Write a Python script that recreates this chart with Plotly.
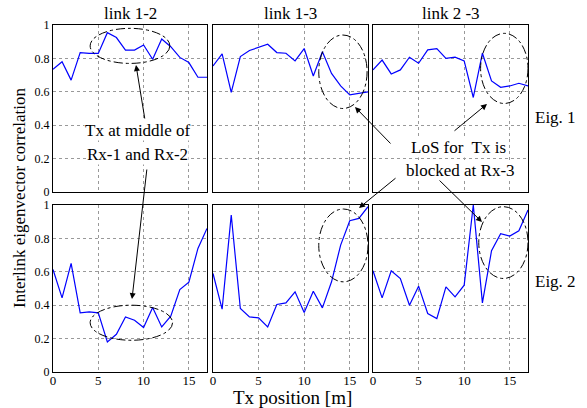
import plotly.graph_objects as go

positions = list(range(18))

eig1_link12 = [0.735, 0.78, 0.67, 0.835, 0.83, 0.83, 0.954, 0.925, 0.85, 0.85, 0.88, 0.795, 0.916, 0.87, 0.806, 0.775, 0.687, 0.687]
eig1_link13 = [0.755, 0.827, 0.596, 0.811, 0.847, 0.865, 0.885, 0.835, 0.831, 0.785, 0.859, 0.695, 0.84, 0.71, 0.635, 0.582, 0.592, 0.60]
eig1_link23 = [0.731, 0.79, 0.707, 0.731, 0.807, 0.771, 0.851, 0.859, 0.80, 0.807, 0.785, 0.566, 0.831, 0.665, 0.627, 0.635, 0.651, 0.635]
eig2_link12 = [0.614, 0.444, 0.65, 0.354, 0.36, 0.354, 0.18, 0.226, 0.33, 0.31, 0.266, 0.386, 0.27, 0.334, 0.494, 0.538, 0.74, 0.86]
eig2_link13 = [0.59, 0.376, 0.94, 0.38, 0.33, 0.324, 0.27, 0.404, 0.414, 0.48, 0.356, 0.484, 0.384, 0.54, 0.76, 0.906, 0.92, 0.99]
eig2_link23 = [0.606, 0.444, 0.606, 0.56, 0.40, 0.514, 0.35, 0.32, 0.51, 0.45, 0.52, 1.0, 0.414, 0.726, 0.828, 0.814, 0.846, 0.97]

link_titles = ["link 1-2", "link 1-3", "link 2 -3"]
row_labels = ["Eig. 1", "Eig. 2"]
y_ticks = [0, 0.2, 0.4, 0.6, 0.8, 1]
y_tick_text = ["0", "0.2", "0.4", "0.6", "0.8", "1"]
x_ticks = [0, 5, 10, 15]
x_tick_text = ["0", "5", "10", "15"]

series = [eig1_link12, eig1_link13, eig1_link23, eig2_link12, eig2_link13, eig2_link23]

W, H = 587, 408
L, R, T, B = 53, 528, 25, 372
FONT = "Liberation Serif, Times New Roman, serif"

def px(x):
    return (x - L) / (R - L)

def py(y):
    return (B - y) / (B - T)

col_px = [(53, 207), (213, 368), (373, 528)]
row_px = [(25, 192), (205, 372)]

fig = go.Figure()
layout = dict(
    width=W, height=H,
    margin=dict(l=L, r=W - R, t=T, b=H - B),
    paper_bgcolor="white", plot_bgcolor="white",
    showlegend=False,
    font=dict(family=FONT, size=14, color="black"),
)

for i, ys in enumerate(series):
    r, c = divmod(i, 3)
    n = i + 1
    xa = "xaxis" if n == 1 else f"xaxis{n}"
    ya = "yaxis" if n == 1 else f"yaxis{n}"
    fig.add_trace(go.Scatter(x=positions, y=ys, mode="lines",
                             line=dict(color="#0000ff", width=1.2),
                             xaxis="x" if n == 1 else f"x{n}",
                             yaxis="y" if n == 1 else f"y{n}"))
    x0, x1 = col_px[c]
    y0, y1 = row_px[r]
    layout[xa] = dict(domain=[px(x0), px(x1)], range=[0, 17],
                      anchor="y" if n == 1 else f"y{n}",
                      tickvals=x_ticks, ticktext=x_tick_text,
                      showticklabels=(r == 1),
                      showgrid=True, gridcolor="#999999", griddash="dot", gridwidth=1,
                      showline=True, linecolor="black", linewidth=1.2, mirror=True,
                      ticks="", ticklen=0, ticklabelstandoff=-4,
                      zeroline=False, tickfont=dict(size=13))
    layout[ya] = dict(domain=[py(y1), py(y0)], range=[0, 1],
                      anchor="x" if n == 1 else f"x{n}",
                      tickvals=y_ticks, ticktext=y_tick_text,
                      showticklabels=(c == 0),
                      showgrid=True, gridcolor="#999999", griddash="dot", gridwidth=1,
                      showline=True, linecolor="black", linewidth=1.2, mirror=True,
                      ticks="", ticklen=0,
                      zeroline=False, tickfont=dict(size=12))

fig.update_layout(**layout)

annotations = []
# column titles
for c, t in enumerate(link_titles):
    x0, x1 = col_px[c]
    annotations.append(dict(text=t, x=px((x0 + x1) / 2), y=py(13), xref="paper", yref="paper",
                            showarrow=False, font=dict(size=17), xanchor="center", yanchor="middle"))
# row labels
annotations.append(dict(text=row_labels[0], x=px(555), y=py(117), xref="paper", yref="paper",
                        showarrow=False, font=dict(size=17), xanchor="center", yanchor="middle"))
annotations.append(dict(text=row_labels[1], x=px(555), y=py(281), xref="paper", yref="paper",
                        showarrow=False, font=dict(size=17), xanchor="center", yanchor="middle"))
# axis titles
annotations.append(dict(text="Interlink eigenvector correlation", x=px(19), y=py(198),
                        xref="paper", yref="paper", showarrow=False, textangle=-90,
                        font=dict(size=17), xanchor="center", yanchor="middle"))
annotations.append(dict(text="Tx position [m]", x=px(292), y=py(397), xref="paper", yref="paper",
                        showarrow=False, font=dict(size=19), xanchor="center", yanchor="middle"))

# arrows (head, tail) in pixels
arrows = [((136, 65), (145, 120)), ((132, 299), (147, 168)),
          ((355, 107), (392, 145)), ((487, 104), (453, 132)),
          ((359, 208), (397, 177)), ((482, 222), (437, 178))]
for (hx, hy), (tx, ty) in arrows:
    annotations.append(dict(x=px(hx), y=py(hy), xref="paper", yref="paper", text="",
                            showarrow=True, ax=tx - hx, ay=ty - hy, arrowhead=2,
                            arrowsize=1.2, arrowwidth=1, arrowcolor="black"))

# text boxes
for txt, cx, cy in [("Tx at middle of", 138, 130), ("Rx-1 and Rx-2", 137, 154),
                    ("LoS for  Tx is", 458, 147), ("blocked at Rx-3", 460, 170)]:
    annotations.append(dict(text=txt, x=px(cx), y=py(cy), xref="paper", yref="paper",
                            showarrow=False, font=dict(size=17), bgcolor="white",
                            xanchor="center", yanchor="middle", borderpad=0))

fig.update_layout(annotations=annotations)

# dashed ellipses (data coordinates of each panel)
ellipses = [(1, 4.1, 12.9, 0.77, 0.98), (2, 11.6, 16.9, 0.50, 0.94), (3, 11.8, 17.0, 0.53, 0.95),
            (4, 4.1, 13.2, 0.19, 0.40), (5, 11.6, 17.0, 0.54, 0.976), (6, 11.6, 17.0, 0.56, 0.99)]
for n, ex0, ex1, ey0, ey1 in ellipses:
    fig.add_shape(type="circle", xref="x" if n == 1 else f"x{n}", yref="y" if n == 1 else f"y{n}",
                  x0=ex0, x1=ex1, y0=ey0, y1=ey1,
                  line=dict(color="black", width=1, dash="dashdot"))

fig.write_html("out.html")
